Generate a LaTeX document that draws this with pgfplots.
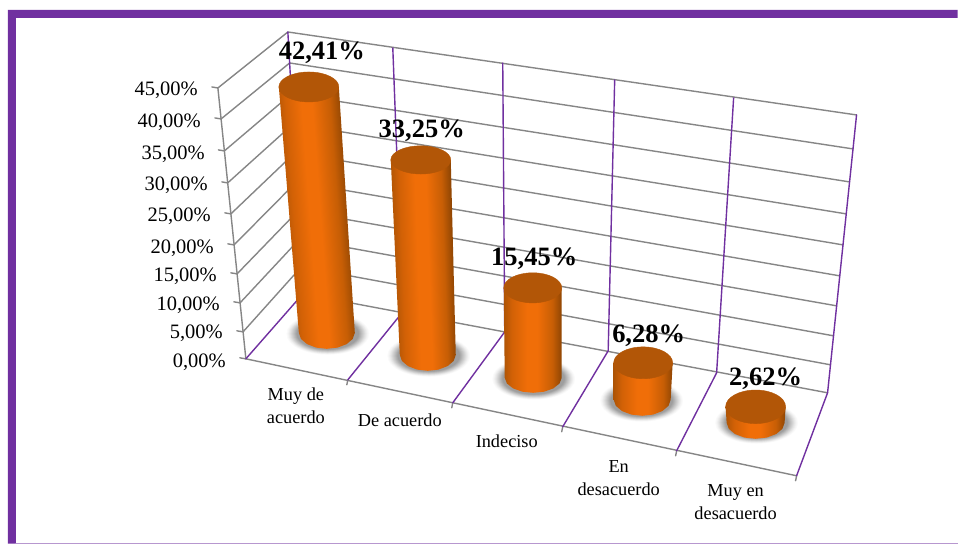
\documentclass[border=0pt]{standalone}
\usepackage{fontspec}
\setmainfont{Liberation Serif}
\usepackage{pgfplots}
\pgfplotsset{compat=1.18}

\definecolor{marco}{HTML}{7030A0}
\definecolor{rejilla}{HTML}{868686}
\definecolor{tapa}{HTML}{B25607}
\definecolor{cylL}{HTML}{AE5405}
\definecolor{cylLm}{HTML}{D26106}
\definecolor{cylM}{HTML}{F06E08}
\definecolor{cylRm}{HTML}{C75E05}
\definecolor{cylR}{HTML}{8E4503}

% cylinder side, the bar fills the part of the bounding box between the outer stops
\pgfdeclarehorizontalshading{cylA}{100bp}{
  color(0bp)=(cylL); color(31bp)=(cylL);
  color(37bp)=(cylLm); color(46bp)=(cylM); color(52bp)=(cylM);
  color(62bp)=(cylRm); color(69bp)=(cylR); color(100bp)=(cylR)}
\pgfdeclarehorizontalshading{cylB}{100bp}{
  color(0bp)=(cylL); color(28bp)=(cylL);
  color(35bp)=(cylLm); color(46bp)=(cylM); color(54bp)=(cylM);
  color(65bp)=(cylRm); color(72bp)=(cylR); color(100bp)=(cylR)}
\pgfdeclarehorizontalshading{cylC}{100bp}{
  color(0bp)=(cylL); color(25bp)=(cylL);
  color(32bp)=(cylLm); color(45bp)=(cylM); color(54bp)=(cylM);
  color(67bp)=(cylRm); color(75bp)=(cylR); color(100bp)=(cylR)}

% one ring of the soft shadows under the five cylinders
\newcommand{\sombra}[2]{
  \addplot[only marks, mark=*, mark size=#1pt,
    mark options={yscale=0.5, fill=black!#2, draw=black!#2}] coordinates {
    (328,334) (429,356) (534,379) (642,401) (757,423)};
}

\begin{document}
\begin{tikzpicture}
\begin{axis}[
    scale only axis,
    width=958pt, height=544pt,
    xmin=0, xmax=958, ymin=0, ymax=544,
    y dir=reverse,
    hide axis,
    clip=false,
    clip mode=individual,
  ]

  % page and frame
  \addplot[fill=white, draw=none] coordinates {(0,0) (958,0) (958,544) (0,544)} --cycle;
  \addplot[fill=marco, draw=none] coordinates {(8,10) (958,10) (958,18) (16,18) (16,544) (8,544)} --cycle;
  \addplot[draw=marco!50, line width=1pt] coordinates {(16,543.3) (958,543.3)};

  % soft shadows, stacked ellipses
  \sombra{41}{2}
  \sombra{40}{4}
  \sombra{39}{7}
  \sombra{38}{10}
  \sombra{37}{14}
  \sombra{36}{18}
  \sombra{35}{22}
  \sombra{34}{26}
  \sombra{33}{30}
  \sombra{32}{34}
  \sombra{31}{38}

  % left wall and back wall, tick to front edge to back corner to right
  \pgfplotsset{every axis plot/.append style={line cap=round, line join=round}}
  \addplot[rejilla, line width=1.4pt] coordinates {(212,87) (218,88) (288,32) (857,115)};
  \addplot[rejilla, line width=1.4pt] coordinates {(215,118) (221.2,119) (289.8,63) (853.5,149)};
  \addplot[rejilla, line width=1.4pt] coordinates {(218.5,150) (224.5,151) (291.5,94) (850,182)};
  \addplot[rejilla, line width=1.4pt] coordinates {(222,182) (227.8,183) (293.3,124) (846.7,214)};
  \addplot[rejilla, line width=1.4pt] coordinates {(225,213) (231,214) (294.9,153) (843.4,245)};
  \addplot[rejilla, line width=1.4pt] coordinates {(228,244) (234.2,245) (296.6,182) (840.2,276)};
  \addplot[rejilla, line width=1.4pt] coordinates {(231,273) (237.2,274) (298.2,211) (837.1,306)};
  \addplot[rejilla, line width=1.4pt] coordinates {(234,302) (240.2,303) (299.9,239) (834,336)};
  \addplot[rejilla, line width=1.4pt] coordinates {(237,331) (243.2,332) (301.5,267) (831,365)};
  \addplot[rejilla, line width=1.4pt] coordinates {(303,294) (828,393)};
  \addplot[rejilla, line width=1.4pt] coordinates {(240,358) (246,359) (218,88)};
  \addplot[rejilla, line width=1.4pt] coordinates {(246,359) (797,476)};
  \addplot[rejilla, line width=1.4pt] coordinates {(348,380) (347,385)};
  \addplot[rejilla, line width=1.4pt] coordinates {(453,403) (452,408)};
  \addplot[rejilla, line width=1.4pt] coordinates {(563,427) (562,432)};
  \addplot[rejilla, line width=1.4pt] coordinates {(677,451) (676,456)};
  \addplot[rejilla, line width=1.4pt] coordinates {(797,476) (796,481)};

  % category lines, floor and back wall
  \addplot[marco, line width=1.4pt] coordinates {(246,359) (303,294) (288,32)};
  \addplot[marco, line width=1.4pt] coordinates {(348,380) (403,312) (393,48)};
  \addplot[marco, line width=1.4pt] coordinates {(453,403) (505,332) (503,63)};
  \addplot[marco, line width=1.4pt] coordinates {(563,427) (608.5,351) (615,80)};
  \addplot[marco, line width=1.4pt] coordinates {(677,451) (717,373) (734,98)};
  \addplot[marco, line width=1.4pt] coordinates {(797,476) (828,393) (857,115)};

  % cylinders
  \addplot[draw=none, shading=cylA, shading angle=4.2] coordinates {
    (279,87) (339,87) (355,333) (352.9,339.1) (346.8,344.3) (337.7,347.8) (327,349)
    (316.3,347.8) (307.2,344.3) (301.1,339.1) (299,333)} --cycle;
  \addplot[only marks, mark=*, mark size=30pt, mark options={yscale=0.5, fill=tapa, draw=tapa}]
    coordinates {(309,87)};

  \addplot[draw=none, shading=cylB, shading angle=2] coordinates {
    (391,160) (451,160) (456,355) (453.9,361.1) (447.8,366.3) (438.7,369.8) (428,371)
    (417.3,369.8) (408.2,366.3) (402.1,361.1) (400,355)} --cycle;
  \addplot[only marks, mark=*, mark size=30pt, mark options={yscale=0.47, fill=tapa, draw=tapa}]
    coordinates {(421,160)};

  \addplot[draw=none, shading=cylC] coordinates {
    (504,288) (562,288) (562,378) (559.8,383.7) (553.6,388.6) (544.4,391.9) (533.5,393)
    (522.6,391.9) (513.4,388.6) (507.2,383.7) (505,378)} --cycle;
  \addplot[only marks, mark=*, mark size=29pt, mark options={yscale=0.52, fill=tapa, draw=tapa}]
    coordinates {(533,288)};

  \addplot[draw=none, shading=cylC] coordinates {
    (614,363) (673,363) (671,400) (668.8,406.1) (662.6,411.3) (653.4,414.8) (642.5,416)
    (631.6,414.8) (622.4,411.3) (616.2,406.1) (614,400)} --cycle;
  \addplot[only marks, mark=*, mark size=29.5pt, mark options={yscale=0.54, fill=tapa, draw=tapa}]
    coordinates {(643.5,363)};

  \addplot[draw=none, shading=cylC] coordinates {
    (726,407) (786,407) (785,423) (782.8,429.1) (776.5,434.3) (767.1,437.8) (756,439)
    (744.9,437.8) (735.5,434.3) (729.2,429.1) (727,423)} --cycle;
  \addplot[only marks, mark=*, mark size=30pt, mark options={yscale=0.56, fill=tapa, draw=tapa}]
    coordinates {(756,407)};

  % data labels
  \addplot[draw=none, nodes near coords={\pgfplotspointmeta\%}, point meta=explicit symbolic,
    nodes near coords style={anchor=center, inner sep=0pt, font=\fontsize{26.5}{30}\selectfont\bfseries}]
    table[meta=label] {
      x     y     label
      322   52.5  42,41
      422   130.5 33,25
      534.5 258.5 15,45
      649   335.5 6,28
      766   378.5 2,62
    };

  % value axis labels
  \addplot[draw=none, nodes near coords={\pgfplotspointmeta\%}, point meta=explicit symbolic,
    nodes near coords style={anchor=east, inner sep=0pt, font=\fontsize{20.5}{24}\selectfont}]
    table[meta=label] {
      x    y    label
      198  90   45,00
      201  122  40,00
      205  154  35,00
      208  185  30,00
      211  216  25,00
      214  248  20,00
      217  276  15,00
      220  305  10,00
      223  333  5,00
      226  362  0,00
    };

  % category labels, one row per line of text
  \addplot[draw=none, nodes near coords, point meta=explicit symbolic,
    nodes near coords style={anchor=center, inner sep=0pt, font=\fontsize{18.3}{21}\selectfont}]
    table[col sep=semicolon, meta=label] {
      x;y;label
      296;396;Muy de
      296;417;acuerdo
      400;420;De acuerdo
      507;441;Indeciso
      619;467;En
      619;489;desacuerdo
      736;493;Muy en
      736;514;desacuerdo
    };
\end{axis}
\end{tikzpicture}
\end{document}
